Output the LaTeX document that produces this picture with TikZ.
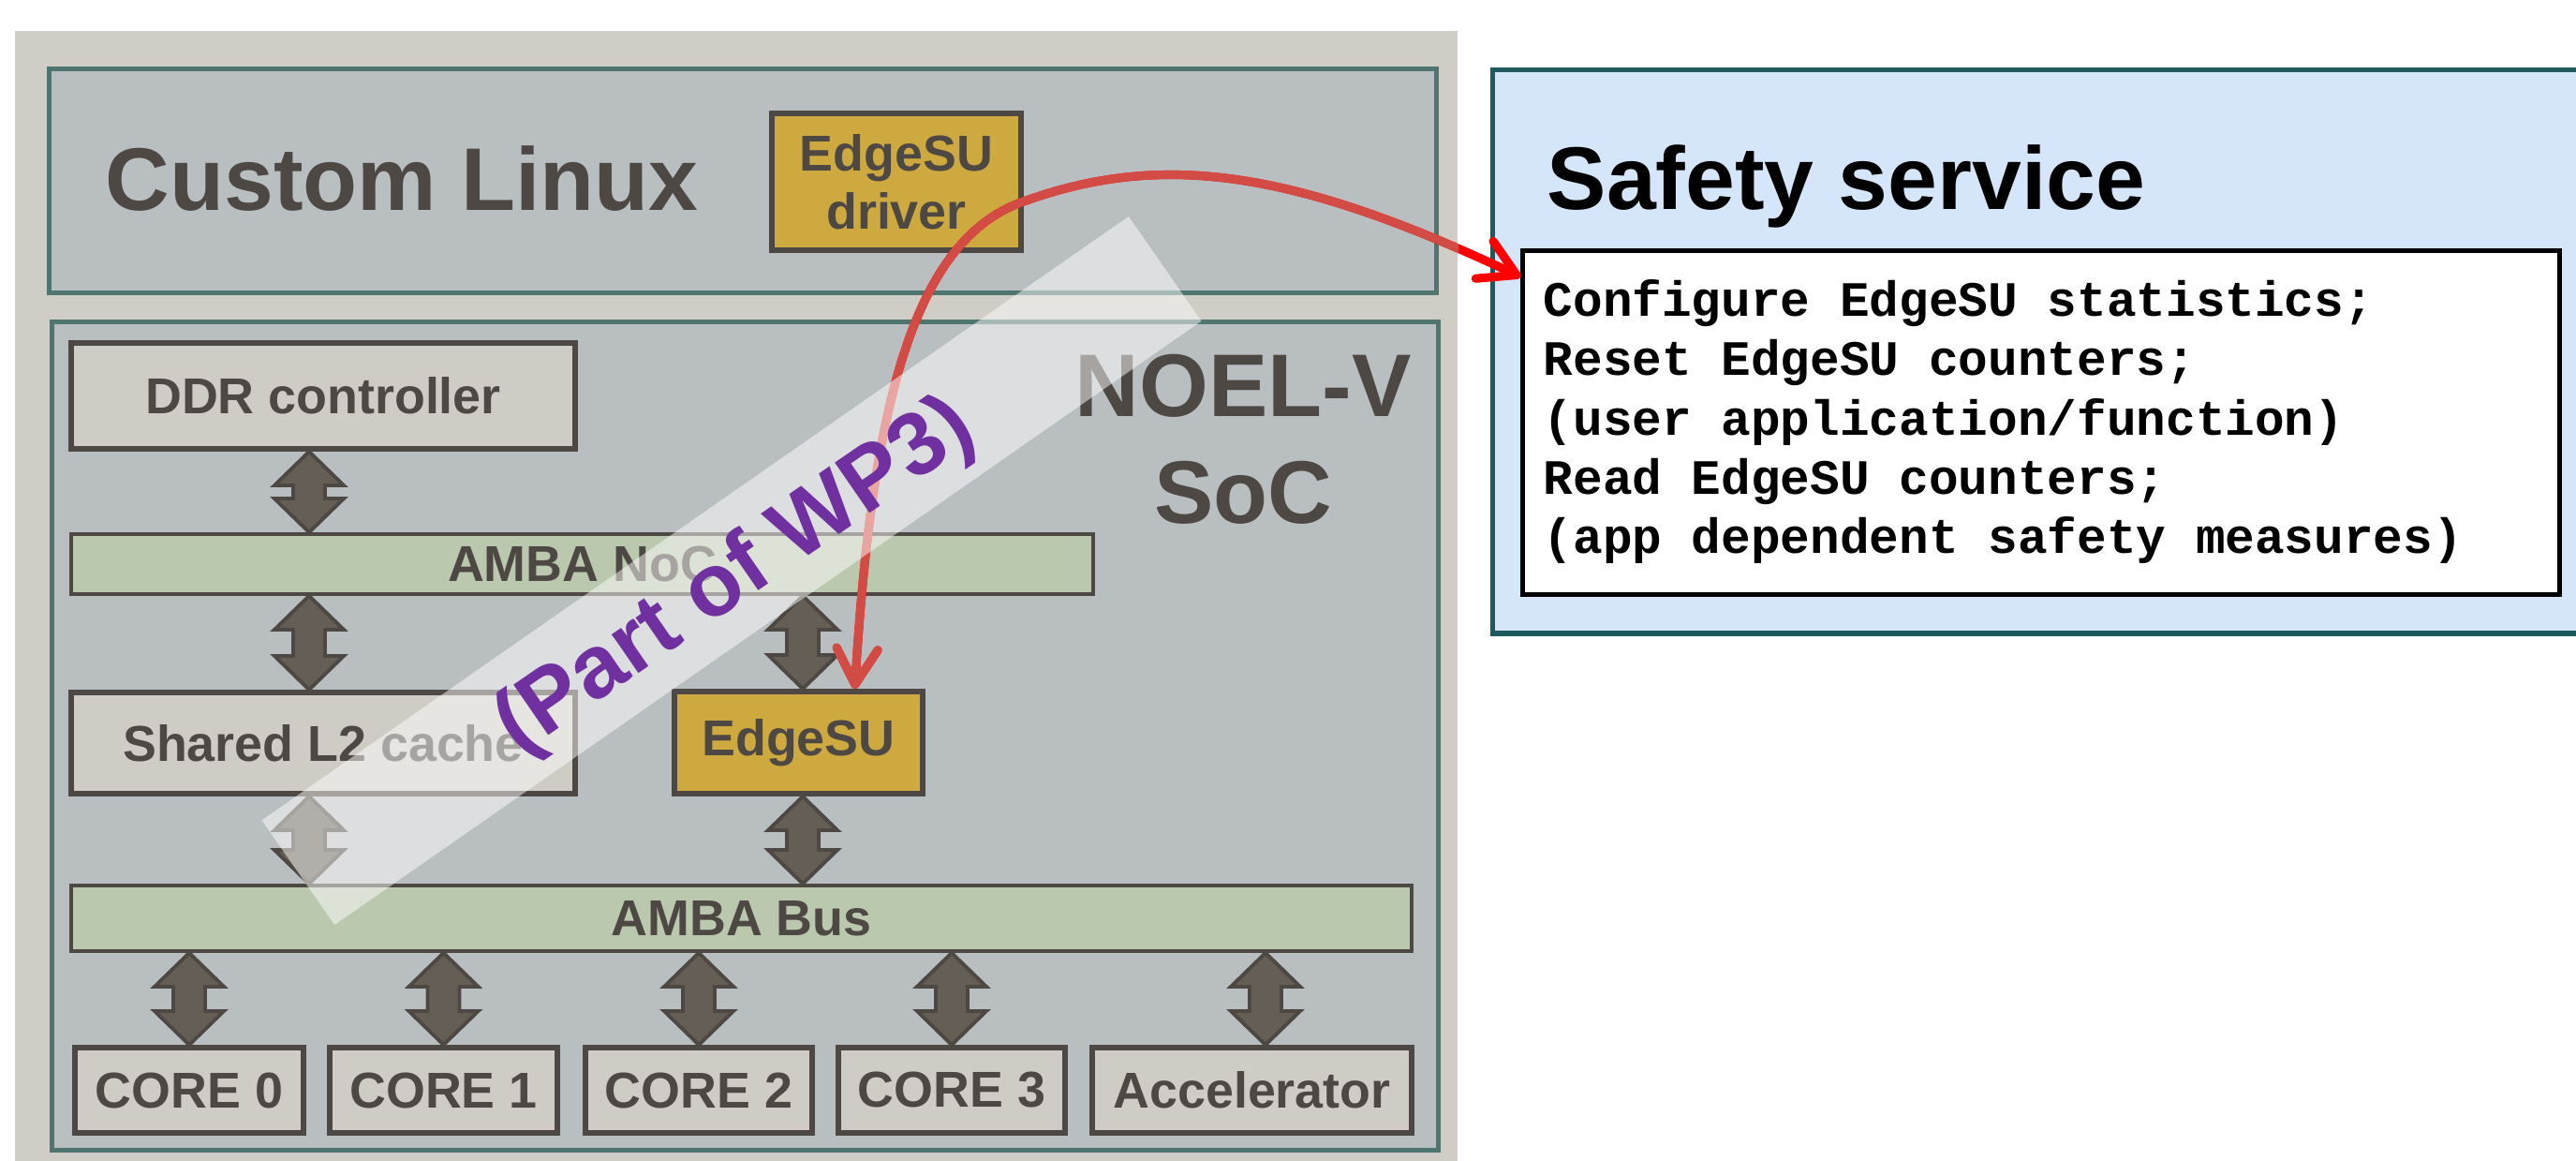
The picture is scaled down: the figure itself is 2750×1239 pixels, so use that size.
\documentclass[tikz,border=0pt]{standalone}
\usepackage{fontspec}
\setmainfont{Liberation Sans}
\newfontfamily\codefont{Liberation Mono}
\usetikzlibrary{calc,arrows.meta}

\definecolor{framegray}{HTML}{D0CCC6}
\definecolor{panelgray}{HTML}{B9BEC1}
\definecolor{panelline}{HTML}{4F7570}
\definecolor{boxgray}{HTML}{CFCBC5}
\definecolor{boxline}{HTML}{4D4843}
\definecolor{gold}{HTML}{CEA940}
\definecolor{busgreen}{HTML}{BAC8AE}
\definecolor{arrowfill}{HTML}{655E54}
\definecolor{safeblue}{HTML}{D5E6FA}
\definecolor{safeline}{HTML}{1D5B5E}
\definecolor{linkred}{HTML}{D24B45}
\definecolor{wppurple}{HTML}{7030A0}

% double block arrow between two points (first above second)
\newcommand{\busarrow}[2]{%
  \draw[busarrow] let \p1=(#1), \p2=(#2) in
    (\x1,\y1) -- (\x1+0.37cm,\y1-0.36cm) -- (\x1+0.17cm,\y1-0.36cm)
    -- (\x1+0.17cm,\y2+0.36cm) -- (\x1+0.37cm,\y2+0.36cm) -- (\x1,\y2)
    -- (\x1-0.37cm,\y2+0.36cm) -- (\x1-0.17cm,\y2+0.36cm)
    -- (\x1-0.17cm,\y1-0.36cm) -- (\x1-0.37cm,\y1-0.36cm) -- cycle;}

\begin{document}
\begin{tikzpicture}[x=0.01cm, y=-0.01cm,
    title/.style={font=\fontsize{27}{32.4}\selectfont\bfseries, text=boxline, inner sep=0pt},
    panel/.style={draw=panelline, line width=1.4pt, fill=panelgray, inner sep=0pt},
    box/.style={draw=boxline, line width=1.7pt, fill=boxgray, text=boxline, inner sep=0pt,
      align=center, font=\fontsize{15.3}{17.6}\selectfont\bfseries},
    goldbox/.style={box, fill=gold},
    bar/.style={box, fill=busgreen, line width=1.1pt},
    busarrow/.style={draw=boxline, fill=arrowfill, line width=1.1pt, line join=miter},
    link/.style={line width=2.6pt, line cap=round,
      >={Straight Barb[length=3.8mm, width=4.4mm, round]}, <->},
    band/.style={fill=white, fill opacity=0.5, inner sep=0pt,
      minimum width=11.27cm, minimum height=1.36cm, rotate=34.85},
  ]
    \useasboundingbox (0,0) rectangle (2750,1239);
    \fill[white] (0,0) rectangle (2750,1239);

    % frame and panels
    \node[fill=framegray, inner sep=0pt, minimum width=15.4cm, minimum height=12.2cm] (frame) at (786,643) {};
    \node[panel, minimum width=14.8cm, minimum height=2.38cm] (linux) at (793,193) {};
    \node[panel, minimum width=14.79cm, minimum height=8.83cm] (soc) at (795.5,785.5) {};
    \node[draw=safeline, line width=1.6pt, fill=safeblue, inner sep=0pt,
      minimum width=11.66cm, minimum height=6.015cm] (safety) at (2177,375.25) {};
    \node[draw=black, line width=1.4pt, fill=white, inner sep=0pt,
      minimum width=11.06cm, minimum height=3.66cm] (cmd) at (2179,451) {};

    % titles
    \node[title, anchor=base west] (linuxlabel) at (112,224) {Custom Linux};
    \node[title, align=center] (soclabel) at (1327,469) {NOEL-V\\SoC};
    \node[title, anchor=base west, text=black] (safetylabel) at (1651,223) {Safety service};
    \node[anchor=west, align=left, inner sep=0pt,
      font=\codefont\fontsize{15}{18.05}\selectfont\bfseries] (cmdtext) at (1647,450)
      {Configure EdgeSU statistics;\\Reset EdgeSU counters;\\(user application/function)\\Read EdgeSU counters;\\(app dependent safety measures)};

    % boxes
    \node[goldbox, minimum width=2.66cm, minimum height=1.46cm] (driver) at (957,194) {EdgeSU\\driver};
    \node[box, minimum width=5.38cm, minimum height=1.13cm] (ddr) at (345,422.5) {DDR controller};
    \node[bar, minimum width=10.91cm, minimum height=0.64cm] (noc) at (621.5,602) {AMBA NoC};
    \node[box, minimum width=5.38cm, minimum height=1.08cm] (l2) at (345,793) {Shared L2 cache};
    \node[goldbox, minimum width=2.65cm, minimum height=1.09cm] (edgesu) at (852.5,792.5) {EdgeSU};
    \node[bar, minimum width=14.31cm, minimum height=0.7cm] (bus) at (791.5,980) {AMBA Bus};

    % cores
    \foreach \cpu/\cx/\cw/\ctext in {core0/202/2.44cm/CORE 0, core1/473.5/2.43cm/CORE 1,
        core2/746/2.42cm/CORE 2, core3/1016/2.42cm/CORE 3, accel/1336.5/3.41cm/Accelerator}
      \node[box, minimum width=\cw, minimum height=0.91cm] (\cpu) at (\cx,1163.5) {\ctext};

    % bus arrows
    \coordinate (colL) at (330,0);
    \coordinate (colE) at (857,0);
    \coordinate (colA) at (1351,0);
    \busarrow{ddr.south -| colL}{noc.north -| colL}
    \busarrow{noc.south -| colL}{l2.north -| colL}
    \busarrow{noc.south -| colE}{edgesu.north -| colE}
    \busarrow{l2.south -| colL}{bus.north -| colL}
    \busarrow{edgesu.south -| colE}{bus.north -| colE}
    \foreach \cpu in {core0,core1,core2,core3}
      {\busarrow{bus.south -| \cpu}{\cpu.north}}
    \busarrow{bus.south -| colA}{accel.north -| colA}

    % link from EdgeSU to safety service
    \newcommand{\linkpath}{([xshift=0.6cm]edgesu.north) .. controls (930,450) and (970,260) .. (1090,216)
      .. controls (1240,161) and (1380,181) .. ([yshift=-0.3cm]cmd.north west)}
    \draw[link, red] \linkpath;
    \begin{scope}
      \clip (frame.north west) rectangle (frame.south east);
      \draw[link, linkred] \linkpath;
    \end{scope}

    % WP3 band
    \node[band] (wpband) at (781,609) {};
    \node[font=\fontsize{27}{32.4}\selectfont\bfseries, text=wppurple, rotate=34.6, inner sep=0pt] (wplabel) at (786,617) {(Part of WP3)};
\end{tikzpicture}
\end{document}
